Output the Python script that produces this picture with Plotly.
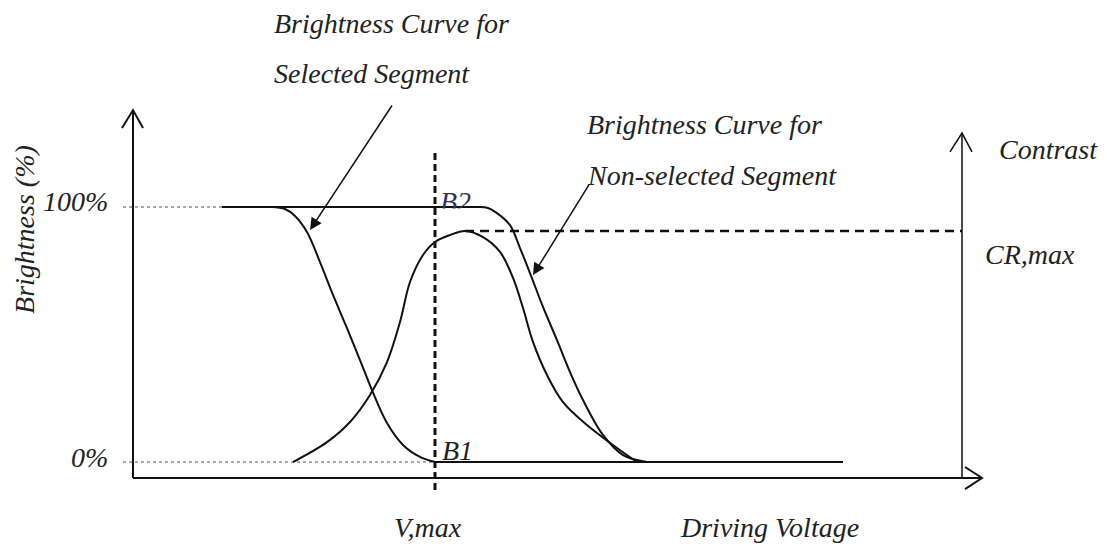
import plotly.graph_objects as go

# driving voltage (arbitrary units) / brightness (%)
sel_v = [1.39, 1.52, 1.62, 1.74, 1.87, 2.00, 2.14, 2.27, 2.39, 2.54, 2.70, 2.87, 3.02]
sel_b = [100, 99.2, 96.5, 90.2, 78.4, 65.5, 52.5, 40.0, 28.2, 15.3, 6.7, 2.0, 0]

non_v = [3.47, 3.55, 3.64, 3.77, 3.87, 3.97, 4.10, 4.24, 4.37, 4.50, 4.70, 4.90, 5.14]
non_b = [100, 99.6, 97.6, 92.9, 83.9, 74.1, 60.8, 47.8, 35.3, 24.3, 10.6, 2.7, 0]

cr_v = [1.60, 1.94, 2.17, 2.37, 2.54, 2.67, 2.77, 2.90, 3.02, 3.17, 3.32, 3.50, 3.67,
        3.80, 3.90, 4.00, 4.14, 4.30, 4.54, 4.84, 5.04]
cr_b = [0, 7.8, 15.7, 26.3, 39.2, 54.9, 70.6, 81.2, 86.3, 89.0, 90.6, 88.2, 82.4,
        72.2, 60.4, 47.1, 34.1, 23.5, 14.5, 5.5, 0]

v_start = 0.89     # curves start flat at 100 %
v_stop = 7.10      # flat 0 % line ends
v_max = 3.02
cr_max = 90.6
v_end = 8.49       # end of voltage axis
v_cr_axis = 8.29   # contrast axis position
b_floor = -6.27    # voltage axis level

serif = "Liberation Serif, Times New Roman, Times, DejaVu Serif, serif"
font = dict(family=serif, size=28, color="#222222", style="italic")
black = "#111111"

fig = go.Figure()


def line(x, y, width=2, dash=None, color=black, shape="linear"):
    fig.add_trace(go.Scatter(x=x, y=y, mode="lines", hoverinfo="skip",
                             line=dict(color=color, width=width, dash=dash, shape=shape)))


# axes with open arrowheads
line([0, 0], [b_floor, 138.0])
line([-0.11, 0, 0.10], [131.0, 138.0, 131.0])
line([0, v_end], [b_floor, b_floor])
line([8.32, v_end, 8.32], [-1.96, b_floor, -10.6])
line([v_cr_axis, v_cr_axis], [b_floor, 129.0], width=1.5)
line([8.17, v_cr_axis, 8.39], [121.6, 129.0, 121.6], width=1.5)

# dotted reference levels
line([-0.10, v_start], [100, 100], width=1, dash="dot", color="#555555")
line([-0.10, v_max], [0, 0], width=1, dash="dot", color="#555555")

# curves: flat parts straight, transitions smoothed
line([v_start, sel_v[0]], [100, 100])
line(sel_v, sel_b, shape="spline")
line([v_start, non_v[0]], [100, 100])
line(non_v, non_b, shape="spline")
line([v_max, v_stop], [0, 0])
line(cr_v, cr_b, shape="spline")

# dashed V,max and CR,max markers
line([v_max, v_max], [-11.0, 121.2], width=3, dash="7px,4px")
line([3.32, v_cr_axis], [cr_max, cr_max], width=2.5, dash="9px,6px")

# B2 sits half hidden under the 100% line
fig.add_trace(go.Scatter(x=[3.07], y=[101.0], mode="text", text=["B2"], textposition="middle right",
                         hoverinfo="skip",
                         textfont=dict(family=serif, size=28, color="#333355", style="italic")))
fig.add_shape(type="rect", x0=3.06, x1=3.43, y0=93.5, y1=99.4, fillcolor="white", line=dict(width=0), layer="above")

labels = [
    ("Brightness Curve for", 1.39, 171.8, "left"),
    ("Selected Segment", 1.39, 152.5, "left"),
    ("Brightness Curve for", 4.52, 132.5, "left"),
    ("Non-selected Segment", 4.52, 112.2, "left"),
    ("Contrast", 8.64, 122.4, "left"),
    ("CR,max", 8.50, 81.2, "left"),
    ("100%", -0.23, 102.0, "right"),
    ("0%", -0.23, 1.6, "right"),
    ("B1", 3.07, 4.7, "left"),
    ("V,max", 2.59, -25.5, "left"),
    ("Driving Voltage", 5.45, -25.5, "left"),
]
for txt, x, y, anchor in labels:
    fig.add_annotation(x=x, y=y, text=txt, showarrow=False, xanchor=anchor, yanchor="middle", font=font)

fig.add_annotation(x=-1.08, y=91.0, text="Brightness (%)", showarrow=False, textangle=-90, font=font)

# pointer arrows
fig.add_annotation(x=1.77, y=91.0, ax=2.60, ay=140.4, xref="x", yref="y", axref="x", ayref="y", text="",
                   showarrow=True, arrowhead=2, arrowsize=1.6, arrowwidth=1.5, arrowcolor=black, standoff=0)
fig.add_annotation(x=4.00, y=73.3, ax=4.57, ay=109.4, xref="x", yref="y", axref="x", ayref="y", text="",
                   showarrow=True, arrowhead=2, arrowsize=1.6, arrowwidth=1.5, arrowcolor=black, standoff=0)

# the page body has an 8px margin, so the figure is 8px smaller and the ranges start there
fig.update_layout(
    width=1099, height=544,
    margin=dict(l=0, r=0, t=0, b=0),
    paper_bgcolor="white", plot_bgcolor="white",
    showlegend=False,
    xaxis=dict(range=[-1.25, 9.74], visible=False, fixedrange=True),
    yaxis=dict(range=[-35.29, 178.04], visible=False, fixedrange=True),
)

fig.write_html("out.html")
